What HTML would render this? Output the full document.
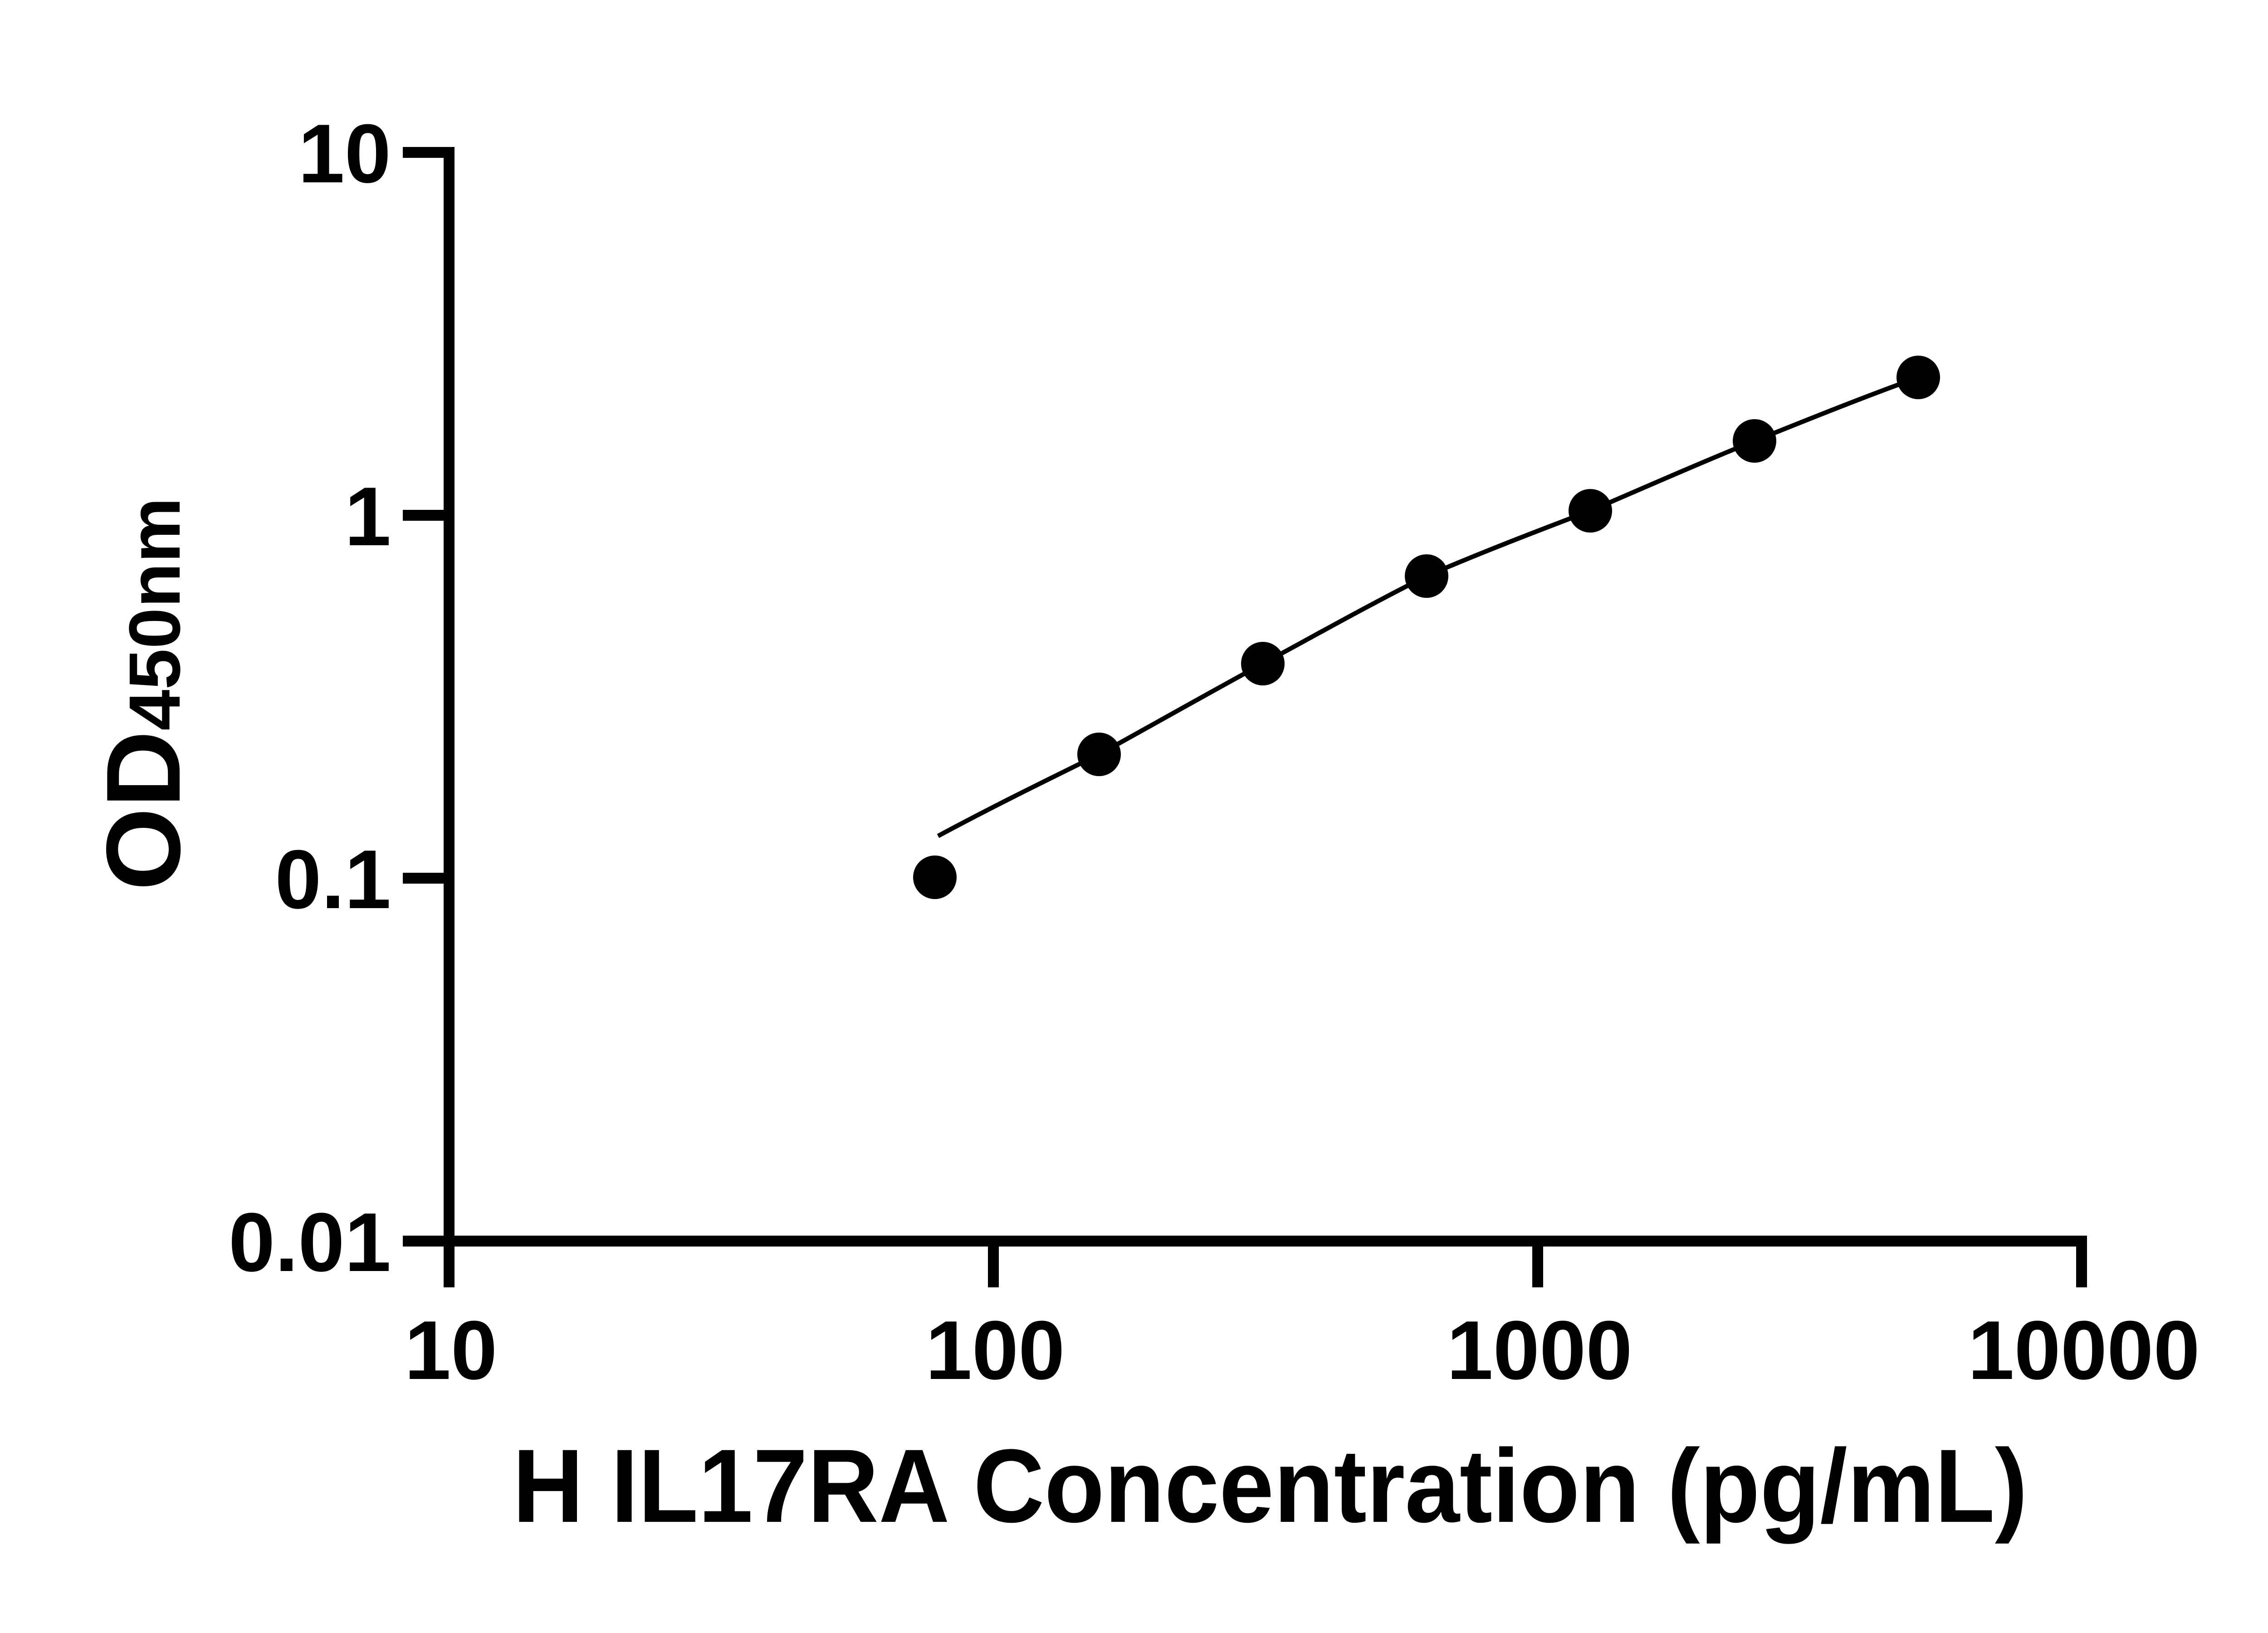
<!DOCTYPE html>
<html><head><meta charset="utf-8"><style>html,body{margin:0;padding:0;background:#fff}svg{display:block}</style></head>
<body>
<svg width="5142" height="3600" viewBox="0 0 5142 3600" xmlns="http://www.w3.org/2000/svg">
<rect width="5142" height="3600" fill="#fff"/>
<g stroke="#000" stroke-width="24" fill="none" stroke-linecap="butt">
  <line x1="990" y1="324" x2="990" y2="2838"/>
  <line x1="978" y1="2736" x2="4601" y2="2736"/>
  <line x1="888" y1="336" x2="1002" y2="336"/>
  <line x1="888" y1="1136" x2="990" y2="1136"/>
  <line x1="888" y1="1936" x2="990" y2="1936"/>
  <line x1="888" y1="2736" x2="990" y2="2736"/>
  <line x1="2190" y1="2736" x2="2190" y2="2838"/>
  <line x1="3390" y1="2736" x2="3390" y2="2838"/>
  <line x1="4589" y1="2724" x2="4589" y2="2838"/>
</g>
<g font-family="Liberation Sans, Arial, sans-serif" font-weight="bold" font-size="184" fill="#000">
  <text x="862" y="402" text-anchor="end">10</text>
  <text x="862" y="1202" text-anchor="end">1</text>
  <text x="862" y="2002" text-anchor="end">0.1</text>
  <text x="862" y="2802" text-anchor="end">0.01</text>
  <text x="994" y="3040" text-anchor="middle">10</text>
  <text x="2194" y="3040" text-anchor="middle">100</text>
  <text x="3394" y="3040" text-anchor="middle">1000</text>
  <text x="4594" y="3040" text-anchor="middle">10000</text>
</g>
<text x="2800" y="3355" text-anchor="middle" font-family="Liberation Sans, Arial, sans-serif" font-weight="bold" font-size="230" textLength="3340" lengthAdjust="spacingAndGlyphs">H IL17RA Concentration (pg/mL)</text>
<text transform="translate(396,1530) rotate(-90)" text-anchor="middle" font-family="Liberation Sans, Arial, sans-serif" font-weight="bold" textLength="867" lengthAdjust="spacingAndGlyphs"><tspan font-size="232">OD</tspan><tspan font-size="160">450nm</tspan></text>
<path d="M2068,1843 C2185,1780 2303,1722 2423,1663 C2543,1597 2664,1528 2784,1463 C2904,1398 3025,1330 3145,1270 C3265,1218 3386,1172 3506,1126 C3627,1074 3747,1021 3868,972 C3988,924 4109,875 4229,832" stroke="#000" stroke-width="10" fill="none"/>
<g fill="#000">
  <circle cx="2061" cy="1934" r="48"/>
  <circle cx="2423" cy="1663" r="48"/>
  <circle cx="2784" cy="1463" r="48"/>
  <circle cx="3145" cy="1270" r="48"/>
  <circle cx="3506" cy="1126" r="48"/>
  <circle cx="3868" cy="972" r="48"/>
  <circle cx="4229" cy="832" r="48"/>
</g>
</svg>
</body></html>
